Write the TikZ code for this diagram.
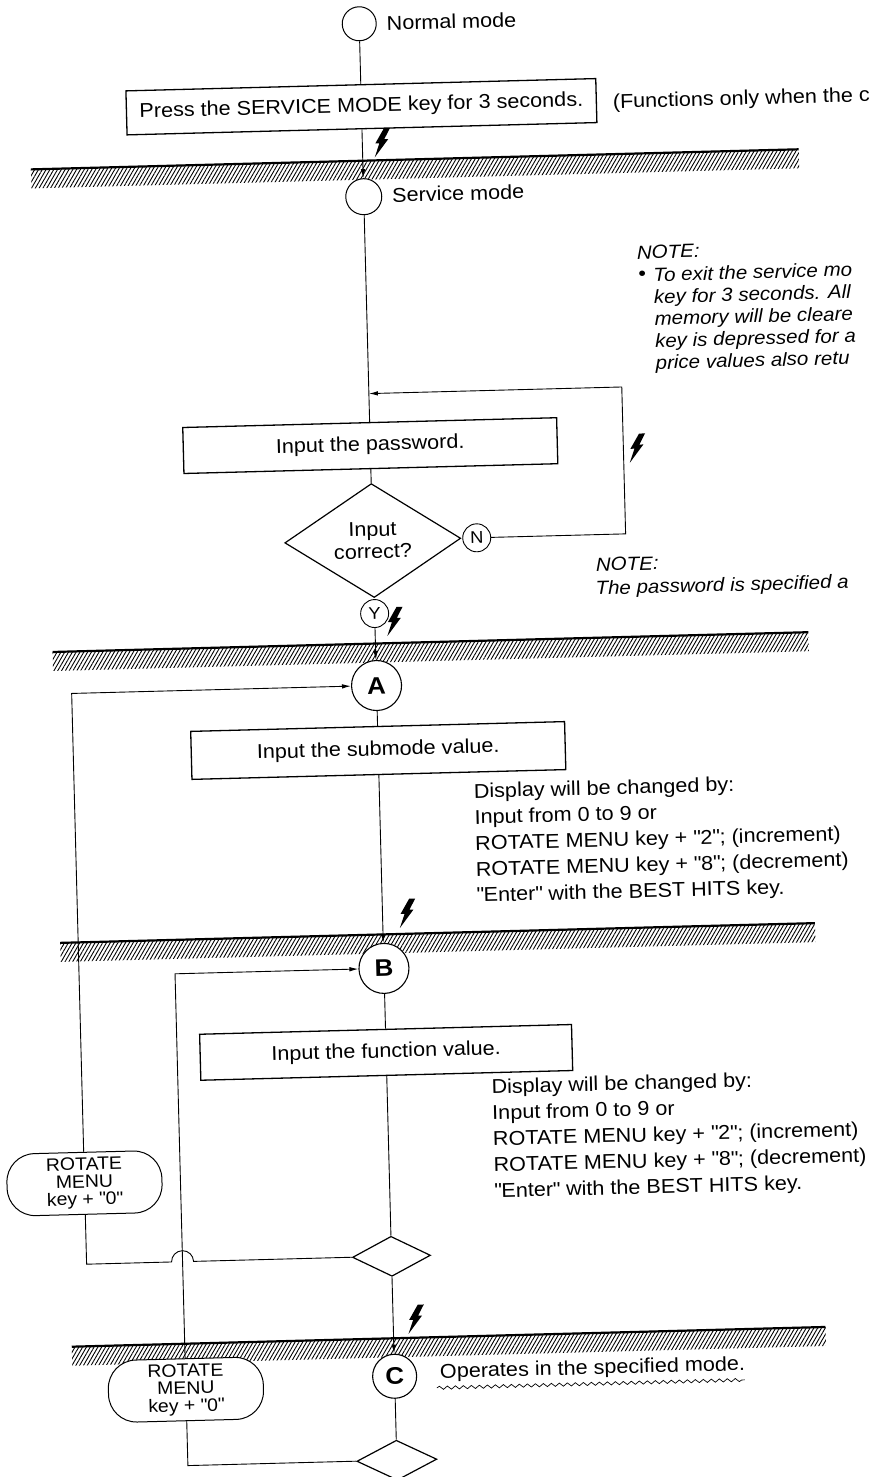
\documentclass[tikz,border=0pt]{standalone}
\usepackage{fontspec}
\setmainfont{Liberation Sans}[FakeStretch=1.08]
\usetikzlibrary{arrows.meta,positioning,calc,shapes.geometric,patterns.meta,decorations.pathmorphing}

\begin{document}
\begin{tikzpicture}[x=1pt, y=-1pt,
  >={Latex[length=9pt,width=4.5pt]}, font=\fontsize{20}{24}\selectfont,
  conn/.style={line width=0.9pt},
  flow/.style={conn, ->},
  procbox/.style={draw, line width=1.3pt, inner sep=0pt, minimum height=44pt},
  term/.style={draw, circle, line width=1pt, fill=white, minimum size=34pt, inner sep=0pt},
  stage/.style={draw, circle, line width=1.1pt, fill=white, minimum size=50pt, inner sep=0pt,
                font=\fontsize{24}{24}\selectfont\bfseries},
  yn/.style={draw, circle, line width=0.9pt, fill=white, minimum size=28pt, inner sep=0pt,
             font=\fontsize{17}{17}\selectfont},
  decide/.style={draw, diamond, line width=1.2pt, fill=white, inner sep=0pt, align=center},
  keypill/.style={draw, line width=1pt, fill=white, rounded corners=28pt, minimum width=155pt,
                  minimum height=62pt, inner sep=0pt, align=center, font=\fontsize{18}{17.5}\selectfont},
  label/.style={anchor=west},
  info/.style={anchor=north west, align=left, font=\fontsize{20}{26}\selectfont},
  note/.style={anchor=west, font=\fontsize{19}{22}\selectfont\itshape},
  hatch/.style={pattern={Lines[angle=60, distance=3.3pt, line width=0.9pt]}},
  bolt/.pic={\fill (4,-14) -- (10,-14) -- (4,-3) -- (8,-3) -- (-6,15) -- (-1,1) -- (-5,1) -- cycle;},
]
\useasboundingbox (0,0) rectangle (871,1477);

\begin{scope}[rotate around={1.5:(435,740)}, transform shape]

% ---- hatched mode borders ----
\foreach \y/\xa/\xb in {159/46/814, 642/55/811, 933/55/810, 1337/56/810}{
  \fill[hatch] (\xa,\y) rectangle (\xb,\y+19);
  \draw[line width=2.2pt] (\xa,\y) -- (\xb,\y);
}

% ---- normal mode -> service mode ----
\node[term] (normal) at (378,22) {};
\node[label] at (402,22) {Normal mode};
\node[procbox, minimum width=470pt] (press) at (378,105) {Press the SERVICE MODE key for 3 seconds.};
\node[label] at (626,108) {(Functions only when the c};
\node[term, minimum size=36pt] (service) at (378,195) {};
\node[label] at (403,194) {Service mode};

\draw[conn] (normal) -- (press);
\draw[flow] (press) -- (service);
\pic at (396,141) {bolt};

% ---- first note ----
\node[note] at (646,258) {NOTE:};
\node[anchor=west] at (647,281) {\textbullet};
\node[note, anchor=north west, align=left]
  at (662,270) {To exit the service mo\\key for 3 seconds. All\\memory will be cleare\\key is depressed for a\\price values also retu};

% ---- password check ----
\node[procbox, minimum width=374pt, minimum height=46pt] (pwd) at (378,444) {Input the password.};
\node[decide, minimum width=176pt, minimum height=80pt] (chk) at (378,539) {Input\\[-2pt]correct?};
\node[yn, right=1pt of chk] (no) {N};
\node[yn, below=1pt of chk] (yes) {Y};
\coordinate (loopr) at (631,392);

\draw[conn] (service) -- (pwd);
\draw[conn] (pwd) -- (chk);
\draw[flow] (no.east) -| (loopr) -- (pwd.north |- loopr);
\pic at (643,453) {bolt};

\node[note] at (597,569) {NOTE:};
\node[note] at (596,594) {The password is specified a};

% ---- submode ----
\node[stage] (A) at (378,684) {A};
\node[procbox, minimum width=374pt, minimum height=48pt] (sub) at (378,749) {Input the submode value.};
\node[info] (infoA) at (469,781) {Display will be changed by:\\Input from 0 to 9 or\\ROTATE MENU key + \textquotedbl 2\textquotedbl; (increment)\\ROTATE MENU key + \textquotedbl 8\textquotedbl; (decrement)\\\textquotedbl Enter\textquotedbl{} with the BEST HITS key.};

\draw[flow] (yes) -- (A);
\pic at (396,620) {bolt};
\draw[conn] (A) -- (sub);

% ---- function ----
\node[stage] (B) at (378,967) {B};
\node[procbox, minimum width=372pt, minimum height=46pt] (fun) at (378,1051) {Input the function value.};
\node[info] (infoB) at (479,1077) {Display will be changed by:\\Input from 0 to 9 or\\ROTATE MENU key + \textquotedbl 2\textquotedbl; (increment)\\ROTATE MENU key + \textquotedbl 8\textquotedbl; (decrement)\\\textquotedbl Enter\textquotedbl{} with the BEST HITS key.};
\node[decide, minimum width=78pt, minimum height=40pt] (dia3) at (378,1255) {};

\draw[flow] (sub) -- (B);
\pic at (401,912) {bolt};
\draw[conn] (B) -- (fun);
\draw[conn] (fun) -- (dia3);

% ---- operating ----
\node[stage, minimum size=44pt] (C) at (378,1375) {C};
\node[label] (oper) at (420,1373) {Operates in the specified mode.};
\draw[decorate, decoration={snake, amplitude=1.6pt, segment length=8pt}, line width=0.7pt]
  ($(oper.south west)+(0,2)$) -- ($(oper.south east)+(-4,2)$);
\node[decide, minimum width=80pt, minimum height=40pt] (dia4) at (378,1459) {};

\draw[flow] (dia3) -- (C);
\pic at (399,1318) {bolt};
\draw[conn] (C) -- (dia4);

% ---- return loops ----
\node[keypill] (retA) at (73,1174) {ROTATE\\MENU\\key + \textquotedbl 0\textquotedbl};
\node[keypill] (retB) at (169,1383) {ROTATE\\MENU\\key + \textquotedbl 0\textquotedbl};

\draw[flow] (retA.north) |- (A.west);
\draw[conn] (dia3.west) -- ($(dia3.west -| retB.north)+(11,0)$)
  arc[start angle=0, end angle=-180, radius=11] -- (dia3.west -| retA.south) -- (retA.south);
\draw[flow] (retB.north) |- (B.west);
\draw[conn] (dia4.west) -| (retB.south);

\end{scope}
\end{tikzpicture}
\end{document}
